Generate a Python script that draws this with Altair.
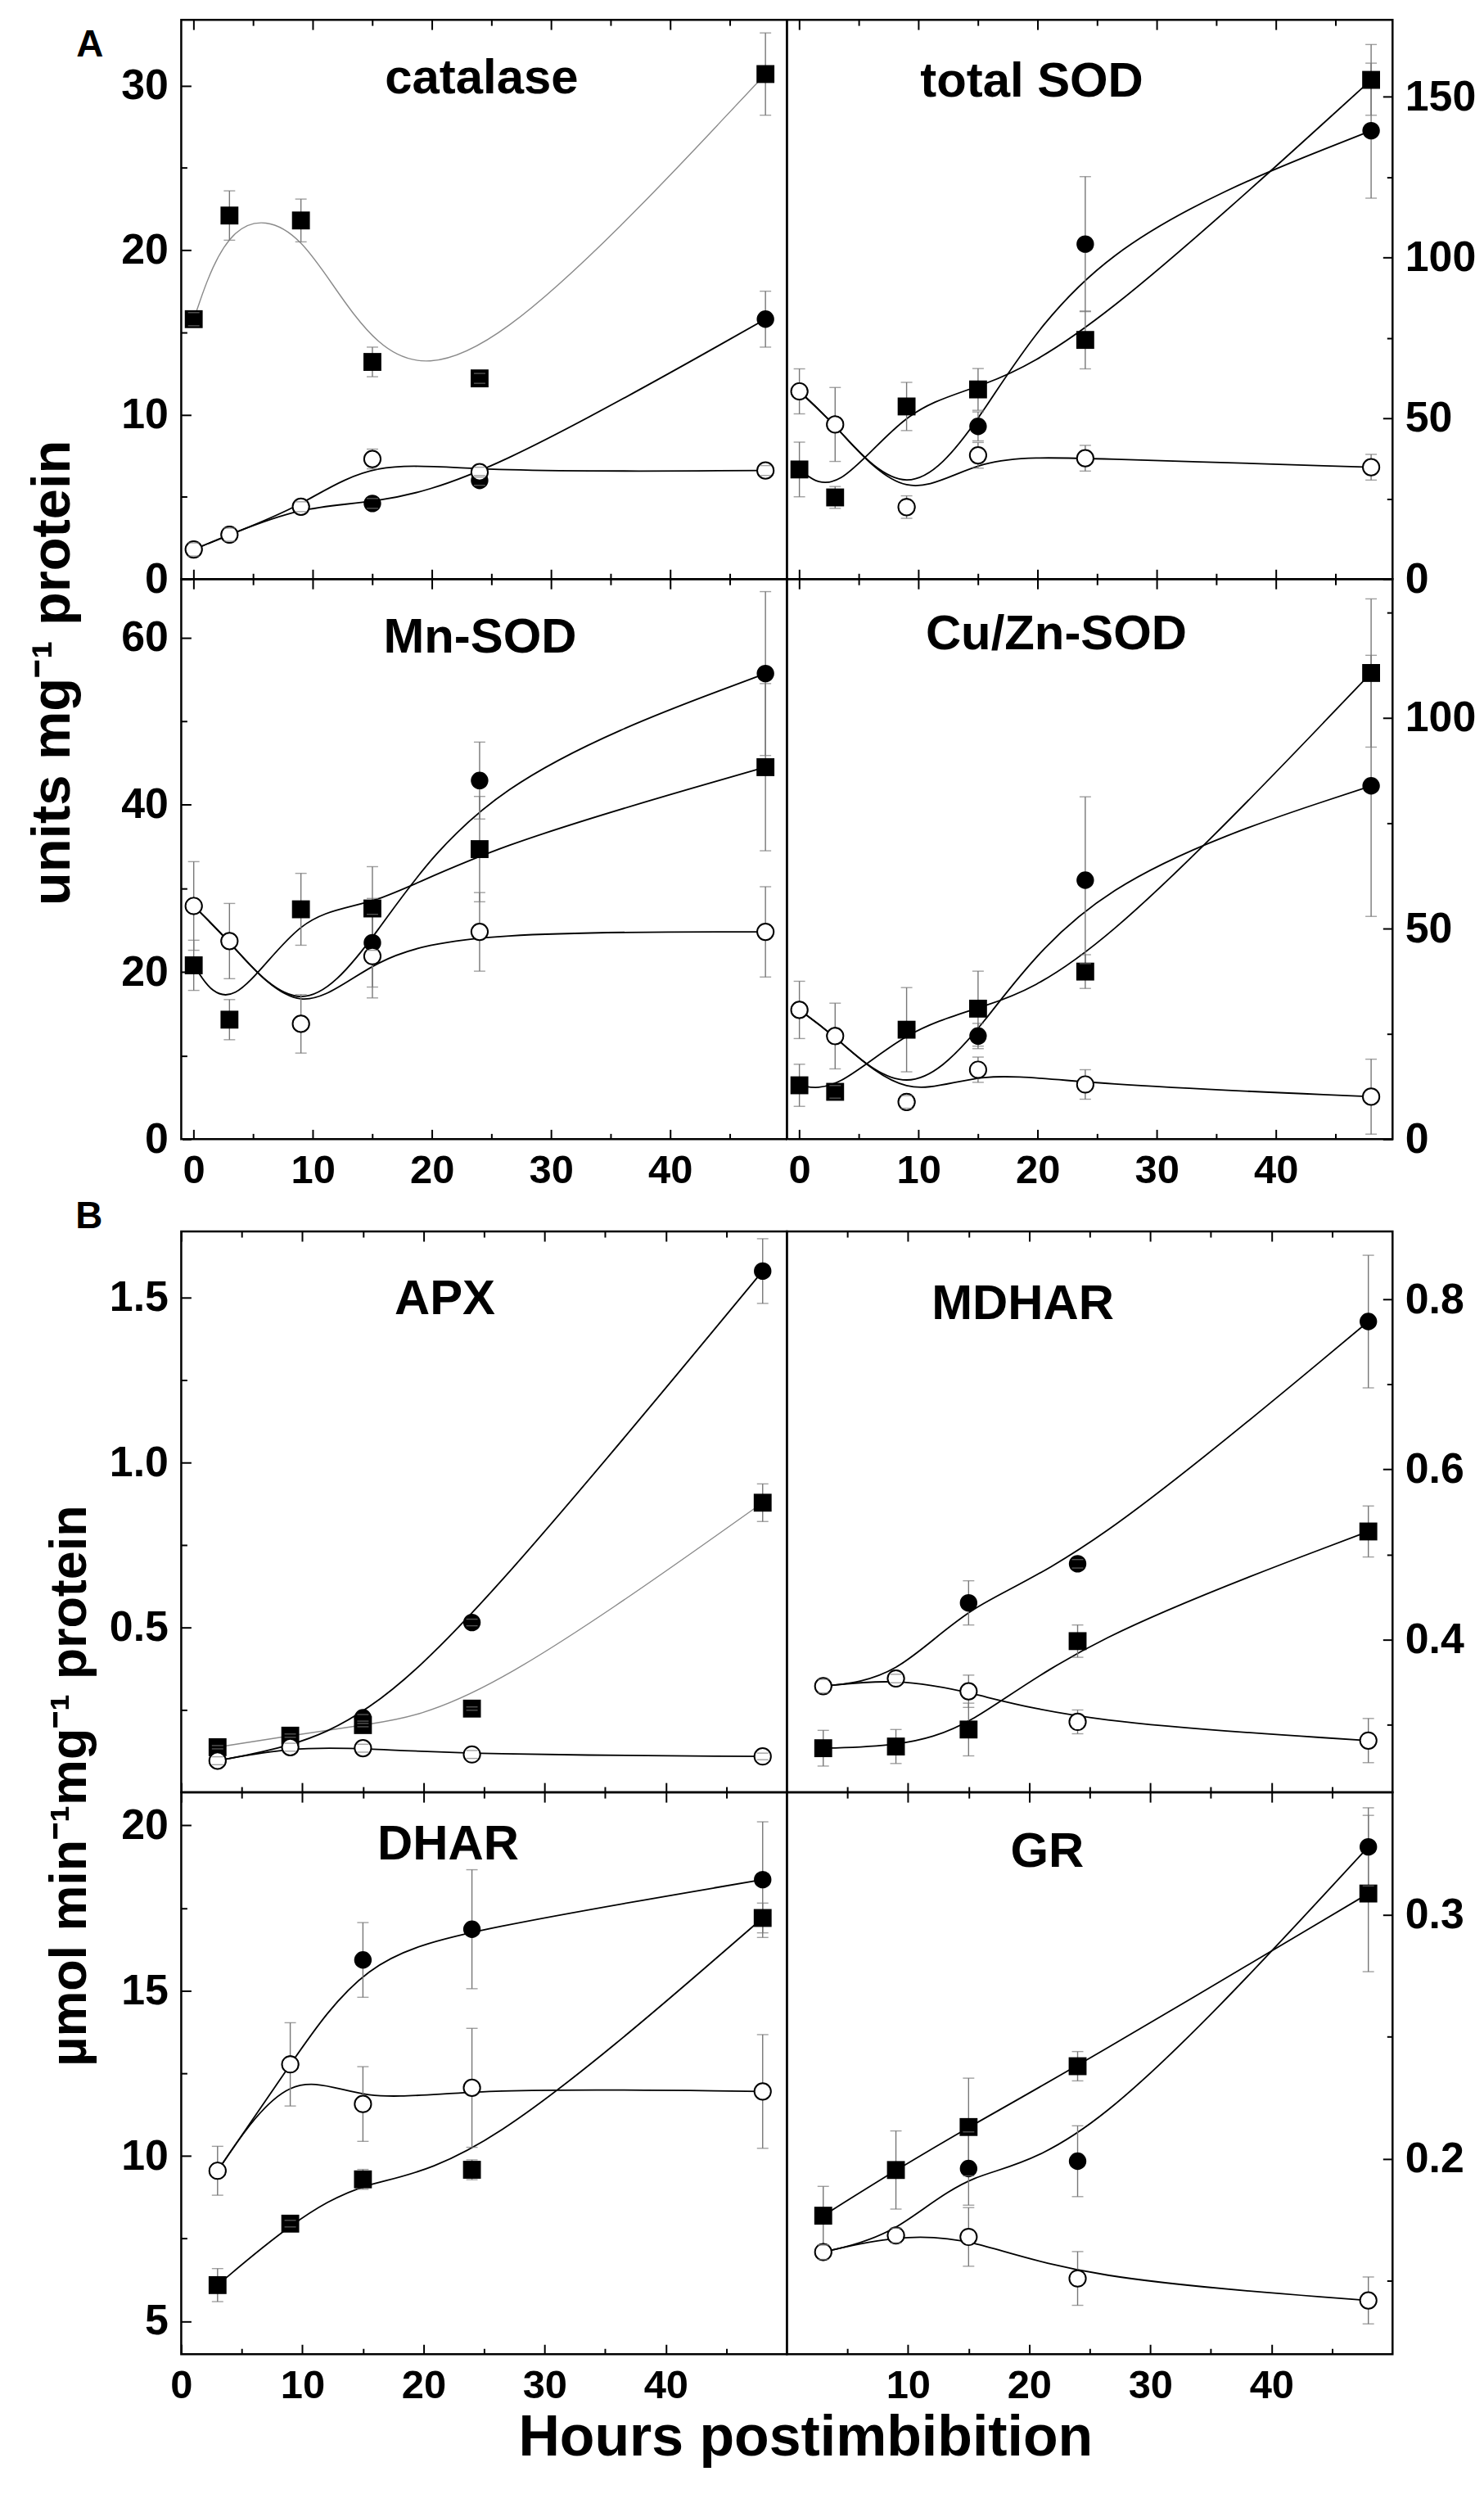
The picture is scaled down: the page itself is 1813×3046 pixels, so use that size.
import altair as alt
import pandas as pd

# ---------------- data ----------------
HOURS_A = [0, 3, 9, 15, 24, 48]
HOURS_B = [3, 9, 15, 24, 48]

# A: units mg-1 protein
CAT_SQ = [15.8, 22.1, 21.8, 13.2, 12.2, 30.7]
CAT_SQ_ERR = [0.4, 1.5, 1.3, 0.9, 0.3, 2.5]
CAT_FC = [1.8, 2.7, 4.4, 4.6, 6.0, 15.8]
CAT_FC_ERR = [0, 0, 0, 0.3, 0.3, 1.7]
CAT_OC = [1.8, 2.7, 4.4, 7.3, 6.5, 6.6]
CAT_OC_ERR = [0.4, 0.4, 0.3, 0.6, 0.3, 0.3]

TOT_SQ = [34.1, 25.4, 53.7, 59.0, 74.4, 155.3]
TOT_SQ_ERR = [8.5, 3.4, 7.5, 6.5, 9.0, 11.0]
TOT_FC = [58.4, 48.1, 22.4, 47.5, 104.2, 139.5]
TOT_FC_ERR = [0, 0, 0, 4.5, 21.0, 21.0]
TOT_OC = [58.4, 48.1, 22.4, 38.5, 37.6, 34.8]
TOT_OC_ERR = [7.0, 11.5, 3.5, 4.0, 4.0, 4.0]

MN_SQ = [20.8, 14.3, 27.5, 27.6, 34.7, 44.5]
MN_SQ_ERR = [3.0, 2.4, 4.3, 5.0, 6.3, 10.0]
MN_FC = [27.9, 23.7, 13.8, 23.5, 42.9, 55.7]
MN_FC_ERR = [0, 0, 0, 5.3, 4.6, 9.8]
MN_OC = [27.9, 23.7, 13.8, 21.9, 24.8, 24.8]
MN_OC_ERR = [5.3, 4.5, 3.5, 5.0, 4.7, 5.4]

CU_SQ = [12.8, 11.25, 26.0, 31.0, 39.8, 110.7]
CU_SQ_ERR = [5.0, 1.5, 10.0, 8.9, 4.0, 17.6]
CU_FC = [30.7, 24.5, 8.85, 24.5, 61.5, 83.9]
CU_FC_ERR = [0, 0, 0, 3.0, 19.8, 31.0]
CU_OC = [30.7, 24.5, 8.85, 16.5, 13.0, 10.1]
CU_OC_ERR = [6.8, 7.8, 1.5, 3.0, 3.5, 8.9]

# B: umol min-1 mg-1 protein
APX_SQ = [0.137, 0.172, 0.204, 0.254, 0.878]
APX_SQ_ERR = [0.005, 0.005, 0.005, 0.005, 0.057]
APX_FC = [0.096, 0.137, 0.226, 0.515, 1.58]
APX_FC_ERR = [0, 0, 0.01, 0.01, 0.098]
APX_OC = [0.096, 0.137, 0.134, 0.115, 0.109]
APX_OC_ERR = [0.012, 0.012, 0.012, 0.012, 0.01]

MDH_SQ = [0.272, 0.274, 0.294, 0.398, 0.527]
MDH_SQ_ERR = [0.021, 0.02, 0.031, 0.019, 0.03]
MDH_FC = [0.345, 0.354, 0.443, 0.489, 0.774]
MDH_FC_ERR = [0, 0, 0.026, 0.005, 0.078]
MDH_OC = [0.345, 0.354, 0.339, 0.303, 0.281]
MDH_OC_ERR = [0.008, 0.005, 0.019, 0.014, 0.026]

DH_SQ = [6.09, 7.95, 9.29, 9.58, 17.2]
DH_SQ_ERR = [0.5, 0.1, 0.3, 0.3, 0.45]
DH_FC = [9.55, 12.77, 15.93, 16.86, 18.36]
DH_FC_ERR = [0, 0, 1.13, 1.8, 1.75]
DH_OC = [9.55, 12.77, 11.57, 12.06, 11.95]
DH_OC_ERR = [0.74, 1.26, 1.13, 1.8, 1.72]

GR_SQ = [0.1767, 0.1954, 0.213, 0.2379, 0.3086]
GR_SQ_ERR = [0.012, 0.016, 0.02, 0.006, 0.032]
GR_FC = [0.1618, 0.1686, 0.196, 0.199, 0.3277]
GR_FC_ERR = [0, 0, 0.015, 0.0145, 0.016]
GR_OC = [0.1618, 0.1686, 0.168, 0.151, 0.142]
GR_OC_ERR = [0.003, 0.003, 0.012, 0.011, 0.0096]

X_TICKS = [0, 10, 20, 30, 40]
X_TICKS_NO0 = [10, 20, 30, 40]
X_MINOR = [5, 15, 25, 35, 45]

# ---------------- styling ----------------
W = 742
FONT = "Liberation Sans"
GRAY_LINE = "#8a8a8a"
ERR_COLOR = "#777777"
AX = dict(domain=False, grid=False, title=None, tickColor="black", tickWidth=2,
          labelFlush=False, labelOverlap=False, labelColor="black",
          labelFont=FONT, labelFontWeight="bold")


def text_layer(txt, x, y, size, angle=0, baseline="alphabetic", color="black"):
    d = pd.DataFrame({"t": [txt]})
    kw = dict(fontSize=size, fontWeight="bold", font=FONT, align="center",
              baseline=baseline, color=color)
    if angle:
        kw["angle"] = angle
    return alt.Chart(d).mark_text(**kw).encode(text="t:N", x=alt.value(x), y=alt.value(y))


def make_panel(p):
    xs = alt.Scale(domain=p["xdom"], nice=False, zero=False)
    ys = alt.Scale(domain=p["ydom"], nice=False, zero=False)
    frames = []
    for key in ["sq", "fc", "oc"]:
        frames.append(pd.DataFrame({"h": p["hours"], "v": p[key], "e": p[key + "_err"], "s": key}))
    df = pd.concat(frames, ignore_index=True)
    df["lo"] = df["v"] - df["e"]
    df["hi"] = df["v"] + df["e"]
    edf = df[df["e"] > 0]
    caps = pd.concat([edf.assign(c=edf["lo"]), edf.assign(c=edf["hi"])], ignore_index=True)

    side = p["side"]
    x_major_b = alt.Axis(orient="bottom", values=p["xvals"], tickSize=12, offset=-12,
                         labels=p["xlabels"], labelPadding=14, labelFontSize=49,
                         format="d", **AX)
    x_major_t = alt.Axis(orient="top", values=p["xvals"], tickSize=12, offset=-12,
                         labels=False, **AX)
    x_minor_b = alt.Axis(orient="bottom", values=X_MINOR, tickSize=7, offset=-7,
                         labels=False, **AX)
    x_minor_t = alt.Axis(orient="top", values=X_MINOR, tickSize=7, offset=-7,
                         labels=False, **AX)
    y_major = alt.Axis(orient=side, values=p["yticks"], tickSize=12, offset=-12,
                       labelPadding=16 if side == "left" else 15, labelFontSize=52,
                       format=p["yfmt"], **AX)
    y_minor = alt.Axis(orient=side, values=p["yminor"], tickSize=7, offset=-7,
                       labels=False, **AX)

    def enc_x(axis):
        return alt.X("h:Q", scale=xs, axis=axis)

    def line(key, color, width, xaxis, yaxis):
        d = df[df["s"] == key]
        return alt.Chart(d).mark_line(interpolate="basis", color=color, strokeWidth=width).encode(
            x=enc_x(xaxis), y=alt.Y("v:Q", scale=ys, axis=yaxis))

    sq_col, sq_w = (GRAY_LINE, 1.4) if p.get("sq_gray") else ("black", 1.8)
    layers = [
        line("sq", sq_col, sq_w, x_major_b, y_major),
        line("fc", "black", 1.8, x_major_t, y_minor),
        line("oc", "black", 1.8, x_minor_b, None),
        alt.Chart(edf).mark_rule(color=ERR_COLOR, strokeWidth=1.4).encode(
            x=enc_x(x_minor_t), y=alt.Y("lo:Q", scale=ys, axis=None), y2="hi:Q"),
        alt.Chart(df[df["s"] == "sq"]).mark_point(shape="square", filled=True, color="black",
                                                  size=480, opacity=1).encode(
            x=enc_x(None), y=alt.Y("v:Q", scale=ys, axis=None)),
        alt.Chart(df[df["s"] == "fc"]).mark_point(shape="circle", filled=True, color="black",
                                                  size=460, opacity=1).encode(
            x=enc_x(None), y=alt.Y("v:Q", scale=ys, axis=None)),
        alt.Chart(df[df["s"] == "oc"]).mark_point(shape="circle", filled=True, fill="white",
                                                  stroke="black", strokeWidth=2,
                                                  size=410, opacity=1).encode(
            x=enc_x(None), y=alt.Y("v:Q", scale=ys, axis=None)),
        alt.Chart(caps).mark_tick(orient="horizontal", color=ERR_COLOR, thickness=1.4,
                                  size=14).encode(
            x=enc_x(None), y=alt.Y("c:Q", scale=ys, axis=None)),
        text_layer(p["title"], p["tpos"][0], p["tpos"][1], 60),
    ]
    layers += p.get("extras", [])
    return alt.layer(*layers).resolve_axis(x="independent", y="independent").properties(
        width=W, height=p["height"])


XDOM_A = [-1.05, 49.8]
XDOM_B = [0, 50]

anchor = alt.Chart(pd.DataFrame({"a": [0]})).mark_rule(color="white", strokeWidth=1).encode(
    x=alt.value(-212), y=alt.value(-10), y2=alt.value(0))

panels = [
    dict(title="catalase", hours=HOURS_A, sq=CAT_SQ, sq_err=CAT_SQ_ERR, fc=CAT_FC, fc_err=CAT_FC_ERR,
         oc=CAT_OC, oc_err=CAT_OC_ERR, ydom=[0, 34], yticks=[0, 10, 20, 30], yminor=[5, 15, 25],
         yfmt="d", side="left", xdom=XDOM_A, xvals=X_TICKS, xlabels=False, tpos=(368, 90),
         height=685, sq_gray=True,
         extras=[anchor,
                 text_layer("A", -112, 31, 46, baseline="middle"),
                 text_layer("units mg\u207b\u00b9 protein", -157, 800, 67, angle=270,
                            baseline="middle")]),
    dict(title="total SOD", hours=HOURS_A, sq=TOT_SQ, sq_err=TOT_SQ_ERR, fc=TOT_FC, fc_err=TOT_FC_ERR,
         oc=TOT_OC, oc_err=TOT_OC_ERR, ydom=[0, 174], yticks=[0, 50, 100, 150], yminor=[25, 75, 125],
         yfmt="d", side="right", xdom=XDOM_A, xvals=X_TICKS, xlabels=False, tpos=(300, 94),
         height=685),
    dict(title="Mn-SOD", hours=HOURS_A, sq=MN_SQ, sq_err=MN_SQ_ERR, fc=MN_FC, fc_err=MN_FC_ERR,
         oc=MN_OC, oc_err=MN_OC_ERR, ydom=[0, 67], yticks=[0, 20, 40, 60], yminor=[10, 30, 50],
         yfmt="d", side="left", xdom=XDOM_A, xvals=X_TICKS, xlabels=True, tpos=(366, 90),
         height=686),
    dict(title="Cu/Zn-SOD", hours=HOURS_A, sq=CU_SQ, sq_err=CU_SQ_ERR, fc=CU_FC, fc_err=CU_FC_ERR,
         oc=CU_OC, oc_err=CU_OC_ERR, ydom=[0, 133], yticks=[0, 50, 100], yminor=[25, 75, 125],
         yfmt="d", side="right", xdom=XDOM_A, xvals=X_TICKS, xlabels=True, tpos=(330, 86),
         height=686),
    "spacer", "spacer",
    dict(title="APX", hours=HOURS_B, sq=APX_SQ, sq_err=APX_SQ_ERR, fc=APX_FC, fc_err=APX_FC_ERR,
         oc=APX_OC, oc_err=APX_OC_ERR, ydom=[0, 1.7], yticks=[0.5, 1.0, 1.5],
         yminor=[0.25, 0.75, 1.25], yfmt=".1f", side="left", xdom=XDOM_B, xvals=X_TICKS,
         xlabels=False, tpos=(323, 101), height=687, sq_gray=True,
         extras=[text_layer("B", -113, -18, 46, baseline="middle"),
                 text_layer("\u00b5mol min\u207b\u00b9mg\u207b\u00b9 protein", -136, 679, 63,
                            angle=270, baseline="middle")]),
    dict(title="MDHAR", hours=HOURS_B, sq=MDH_SQ, sq_err=MDH_SQ_ERR, fc=MDH_FC, fc_err=MDH_FC_ERR,
         oc=MDH_OC, oc_err=MDH_OC_ERR, ydom=[0.22, 0.88], yticks=[0.4, 0.6, 0.8],
         yminor=[0.3, 0.5, 0.7], yfmt=".1f", side="right", xdom=XDOM_B, xvals=X_TICKS_NO0,
         xlabels=False, tpos=(289, 107), height=687),
    dict(title="DHAR", hours=HOURS_B, sq=DH_SQ, sq_err=DH_SQ_ERR, fc=DH_FC, fc_err=DH_FC_ERR,
         oc=DH_OC, oc_err=DH_OC_ERR, ydom=[4, 21], yticks=[5, 10, 15, 20],
         yminor=[7.5, 12.5, 17.5], yfmt="d", side="left", xdom=XDOM_B, xvals=X_TICKS,
         xlabels=True, tpos=(327, 82), height=688,
         extras=[text_layer("Hours postimbibition", 765, 812, 70)]),
    dict(title="GR", hours=HOURS_B, sq=GR_SQ, sq_err=GR_SQ_ERR, fc=GR_FC, fc_err=GR_FC_ERR,
         oc=GR_OC, oc_err=GR_OC_ERR, ydom=[0.12, 0.35], yticks=[0.2, 0.3],
         yminor=[0.15, 0.25], yfmt=".1f", side="right", xdom=XDOM_B, xvals=X_TICKS_NO0,
         xlabels=True, tpos=(319, 91), height=688),
]


def spacer():
    return alt.Chart(pd.DataFrame({"a": [0]})).mark_rule(color="white").encode(
        x=alt.value(1), y=alt.value(1), y2=alt.value(2)).properties(
        width=W, height=113, view=alt.ViewBackground(strokeOpacity=0))


cells = [spacer() if p == "spacer" else make_panel(p) for p in panels]

chart = alt.concat(*cells, columns=2, spacing=0, bounds="flush", align="each").properties(
    padding=0, background="white"
).configure_view(stroke="black", strokeWidth=2.5)

chart.save("out.html", embed_options={"renderer": "svg", "actions": False})
